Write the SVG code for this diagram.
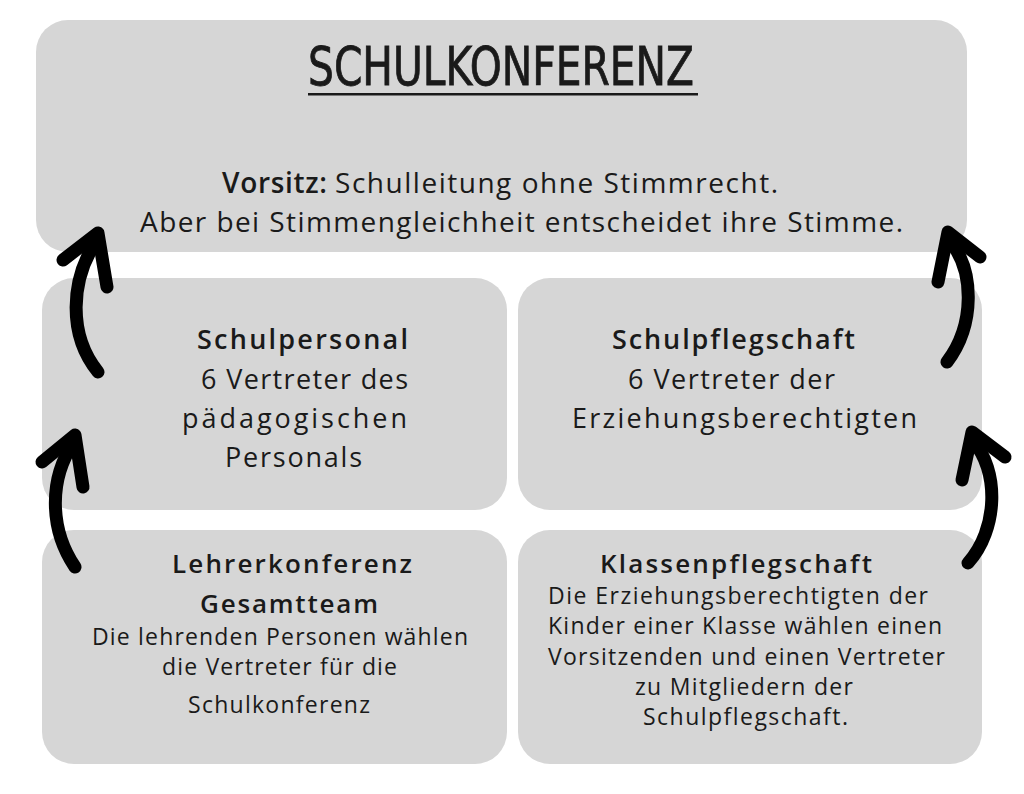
<svg xmlns="http://www.w3.org/2000/svg" width="1024" height="794" viewBox="0 0 1024 794">
<style>
.box{fill:#d6d6d6}
.t{font-family:"Open Sans","Noto Sans","Liberation Sans",sans-serif;fill:#1a1a1a;font-variant-ligatures:none}
.b{font-weight:600}
.arr{fill:none;stroke:#000;stroke-width:13;stroke-linecap:round;stroke-linejoin:round}
</style>
<rect width="1024" height="794" fill="#fff"/>
<g id="schulkonferenz">
<rect class="box" x="36" y="20" width="931" height="232" rx="32"/>
<text x="308" y="85" font-family="'DejaVu Sans Condensed','DejaVu Sans',sans-serif" font-size="54" fill="#1a1a1a" stroke="#1a1a1a" stroke-width="0.8" textLength="386" lengthAdjust="spacingAndGlyphs">SCHULKONFERENZ</text>
<rect x="308" y="93" width="390" height="2.5" fill="#1a1a1a"/>
<text class="t b" x="222" y="193" font-size="28" textLength="105">Vorsitz:</text>
<text class="t" x="335" y="193" font-size="28" textLength="443">Schulleitung ohne Stimmrecht.</text>
<text class="t" x="140" y="232" font-size="28" textLength="763">Aber bei Stimmengleichheit entscheidet ihre Stimme.</text>
</g>
<g id="schulpersonal">
<rect class="box" x="42" y="278" width="465" height="232" rx="32"/>
<text class="t b" x="197" y="349" font-size="27" textLength="211">Schulpersonal</text>
<text class="t" x="201" y="389" font-size="27" textLength="207">6 Vertreter des</text>
<text class="t" x="182" y="428" font-size="27" textLength="225">pädagogischen</text>
<text class="t" x="225" y="467" font-size="27" textLength="137">Personals</text>
</g>
<g id="schulpflegschaft">
<rect class="box" x="518" y="278" width="464" height="232" rx="32"/>
<text class="t b" x="612" y="349" font-size="27" textLength="243">Schulpflegschaft</text>
<text class="t" x="628" y="389" font-size="27" textLength="207">6 Vertreter der</text>
<text class="t" x="572" y="428" font-size="27" textLength="345">Erziehungsberechtigten</text>
</g>
<g id="lehrerkonferenz">
<rect class="box" x="42" y="530" width="465" height="234" rx="32"/>
<text class="t b" x="172" y="573" font-size="26" textLength="240">Lehrerkonferenz</text>
<text class="t b" x="200" y="613" font-size="26" textLength="178">Gesamtteam</text>
<text class="t" x="92" y="645" font-size="23" textLength="376">Die lehrenden Personen wählen</text>
<text class="t" x="162" y="675" font-size="23" textLength="235">die Vertreter für die</text>
<text class="t" x="188" y="713" font-size="23" textLength="182">Schulkonferenz</text>
</g>
<g id="klassenpflegschaft">
<rect class="box" x="518" y="530" width="464" height="234" rx="32"/>
<text class="t b" x="600" y="573" font-size="26" textLength="272">Klassenpflegschaft</text>
<text class="t" x="548" y="604" font-size="23" textLength="380">Die Erziehungsberechtigten der</text>
<text class="t" x="548" y="634" font-size="23" textLength="394">Kinder einer Klasse wählen einen</text>
<text class="t" x="548" y="665" font-size="23" textLength="397">Vorsitzenden und einen Vertreter</text>
<text class="t" x="635" y="695" font-size="23" textLength="218">zu Mitgliedern der</text>
<text class="t" x="643" y="725" font-size="23" textLength="205">Schulpflegschaft.</text>
</g>
<g id="connectors">
<path class="arr" d="M98,372 C68,335 70,280 97,240"/>
<polyline class="arr" points="63,260 98,233 107,287"/>
<path class="arr" d="M75,567 C50,530 48,480 74,442"/>
<polyline class="arr" points="42,462 75,435 83,487"/>
<path class="arr" d="M947,362 C975,325 975,270 949,240"/>
<polyline class="arr" points="938,282 948,232 980,257"/>
<path class="arr" d="M968,563 C998,530 1000,470 972,440"/>
<polyline class="arr" points="962,480 972,432 1005,457"/>
</g>
</svg>
